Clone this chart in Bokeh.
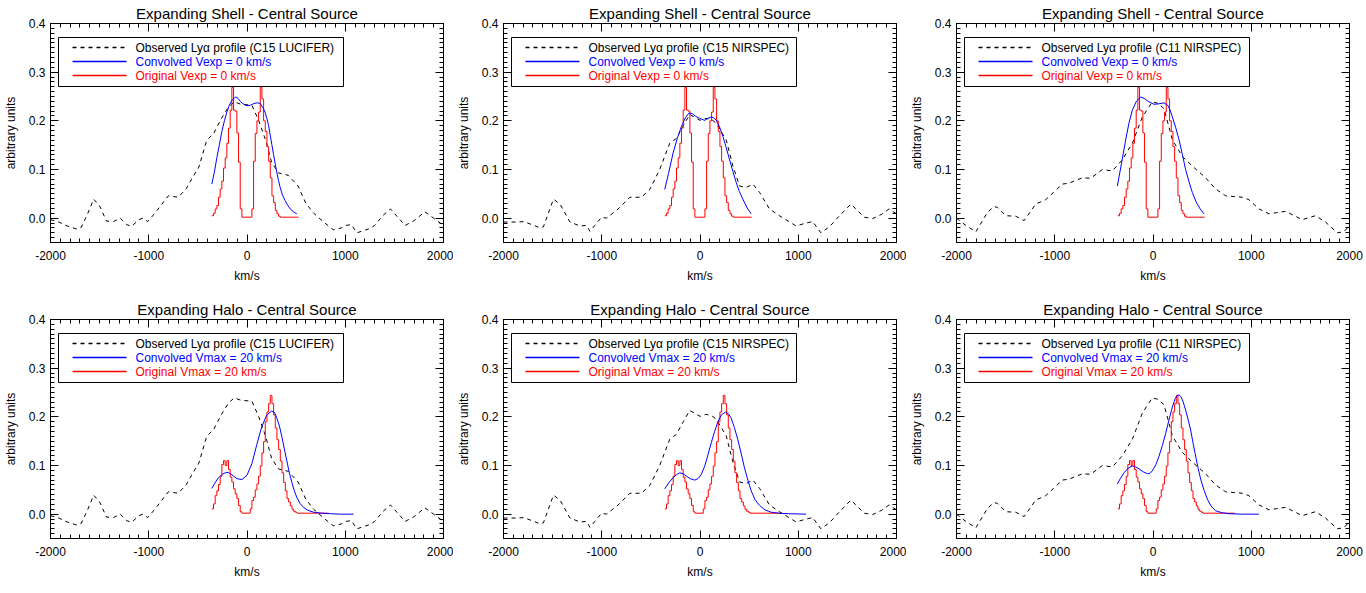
from bokeh.plotting import figure
from bokeh.layouts import gridplot
from bokeh.models import (Range1d, LinearAxis, SingleIntervalTicker, NumeralTickFormatter,
                          CustomJSTickFormatter, BoxAnnotation, Label)
from bokeh.embed import file_html
from bokeh.resources import INLINE

FONT = "Liberation Sans"

# ---------------- data ----------------
titles = ["Expanding Shell - Central Source", "Expanding Halo - Central Source"]
obs_labels = ["Observed Lyα profile (C15 LUCIFER)",
              "Observed Lyα profile (C15 NIRSPEC)",
              "Observed Lyα profile (C11 NIRSPEC)"]
conv_labels = ["Convolved Vexp = 0 km/s", "Convolved Vmax = 20 km/s"]
orig_labels = ["Original Vexp = 0 km/s", "Original Vmax = 20 km/s"]

x_ticks_interval = 1000
y_ticks_interval = 0.1
X_START, X_END = -2000, 2000
Y_START, Y_END = -0.05, 0.4

# observed profiles (km/s, arbitrary units)
obs_c15_lucifer_v = [-2000, -1915, -1830, -1740, -1690, -1620, -1560, -1500, -1430, -1360, -1290,
                     -1220, -1170, -1100, -1060, -1010, -960, -880, -800, -700, -620, -550, -490,
                     -410, -340, -260, -190, -130, -60, 0, 50, 120, 190, 250, 320, 420, 520, 600,
                     680, 780, 880, 960, 1010, 1060, 1120, 1240, 1300, 1380, 1460, 1530, 1610,
                     1700, 1810, 1900, 2000]
obs_c15_lucifer_f = [-0.003, -0.008, -0.016, -0.022, -0.020, 0.010, 0.039, 0.025, -0.006, -0.007,
                     0.000, -0.014, -0.016, -0.003, 0.000, -0.007, 0.005, 0.025, 0.046, 0.043,
                     0.060, 0.085, 0.105, 0.160, 0.174, 0.205, 0.228, 0.239, 0.234, 0.233, 0.232,
                     0.200, 0.160, 0.115, 0.093, 0.088, 0.066, 0.030, 0.010, -0.008, -0.024,
                     -0.020, -0.015, -0.013, -0.030, -0.022, -0.015, 0.005, 0.019, 0.003, -0.015,
                     -0.005, 0.013, 0.000, -0.015]

obs_c15_nirspec_v = [-2000, -1865, -1797, -1700, -1628, -1594, -1492, -1425, -1323, -1222, -1154,
                     -1120, -1002, -951, -833, -714, -596, -511, -410, -308, -240, -170, -105, -50,
                     0, 60, 115, 166, 267, 335, 403, 470, 538, 606, 707, 809, 978, 1080, 1147,
                     1230, 1316, 1420, 1536, 1672, 1756, 1850, 1925, 2000]
obs_c15_nirspec_f = [-0.008, -0.008, -0.007, -0.014, -0.020, -0.018, 0.039, 0.029, -0.008, -0.016,
                     -0.015, -0.027, 0.002, 0.000, 0.019, 0.043, 0.043, 0.059, 0.100, 0.154, 0.164,
                     0.190, 0.213, 0.207, 0.201, 0.205, 0.203, 0.195, 0.161, 0.107, 0.066, 0.063,
                     0.070, 0.053, 0.019, 0.005, -0.016, -0.010, -0.007, -0.030, -0.018, 0.005,
                     0.029, 0.002, -0.001, 0.008, 0.019, 0.009]

obs_c11_nirspec_v = [-2000, -1905, -1803, -1685, -1617, -1583, -1498, -1397, -1312, -1193, -1092,
                     -922, -854, -719, -634, -515, -414, -312, -210, -108, -7, 50, 112, 197, 298,
                     400, 536, 637, 739, 909, 976, 1078, 1180, 1248, 1349, 1519, 1654, 1756, 1875,
                     1943, 2000]
obs_c11_nirspec_f = [0.000, -0.015, -0.028, 0.012, 0.024, 0.022, 0.005, 0.004, -0.005, 0.029, 0.038,
                     0.070, 0.072, 0.083, 0.082, 0.100, 0.097, 0.120, 0.154, 0.208, 0.239, 0.236,
                     0.225, 0.161, 0.127, 0.107, 0.083, 0.060, 0.046, 0.043, 0.038, 0.019, 0.009,
                     0.011, 0.014, -0.003, 0.005, -0.008, -0.030, -0.028, -0.015]

# original (unconvolved) model spectra, histogram: left bin edges + last edge
shell_orig_v = [-358, -341, -324, -307, -290, -273, -256, -239, -222, -205, -188, -171, -154, -137,
                -120, -103, -86, -69, -52, 50, 67, 84, 101, 118, 135, 152, 169, 186, 203, 220,
                237, 254, 271, 288, 305, 322, 339, 525]
shell_orig_f = [0.005, 0.010, 0.019, 0.026, 0.043, 0.060, 0.076, 0.103, 0.124, 0.154, 0.185, 0.222,
                0.269, 0.222, 0.220, 0.175, 0.115, 0.019, 0.002, 0.019, 0.117, 0.174, 0.200, 0.218,
                0.269, 0.245, 0.200, 0.178, 0.147, 0.117, 0.083, 0.046, 0.032, 0.016, 0.009, 0.004,
                0.002, 0.002]

halo_orig_v = [-358, -341, -324, -307, -290, -273, -256, -239, -222, -205, -188, -171, -154, -137,
               -120, -103, -86, -69, -52, 33, 50, 67, 84, 101, 118, 135, 152, 169, 186, 203, 220,
               237, 254, 271, 288, 305, 322, 339, 356, 373, 390, 407, 424, 441, 458, 475, 492, 509,
               831]
halo_orig_f = [0.011, 0.021, 0.038, 0.048, 0.061, 0.078, 0.102, 0.110, 0.100, 0.110, 0.092, 0.076,
               0.066, 0.052, 0.042, 0.032, 0.018, 0.005, 0.002, 0.011, 0.028, 0.035, 0.050, 0.062,
               0.078, 0.099, 0.126, 0.149, 0.190, 0.210, 0.227, 0.244, 0.227, 0.204, 0.177, 0.153,
               0.133, 0.109, 0.085, 0.065, 0.048, 0.032, 0.025, 0.017, 0.010, 0.006, 0.004, 0.002,
               0.002]

# convolved model spectra
shell_conv_c15_lucifer_v = [-358, -330, -307, -280, -256, -230, -205, -180, -154, -130, -113, -90,
                            -69, -40, -18, 10, 33, 65, 100, 134, 168, 185, 202, 220, 236, 253, 270,
                            287, 304, 321, 338, 360, 389, 415, 440, 480, 507]
shell_conv_c15_lucifer_f = [0.070, 0.097, 0.124, 0.152, 0.178, 0.200, 0.218, 0.232, 0.242, 0.247,
                            0.249, 0.246, 0.240, 0.235, 0.232, 0.231, 0.232, 0.235, 0.237, 0.236,
                            0.225, 0.217, 0.205, 0.190, 0.171, 0.151, 0.131, 0.112, 0.093, 0.077,
                            0.063, 0.048, 0.036, 0.026, 0.019, 0.012, 0.009]

shell_conv_c15_nirspec_v = [-359, -320, -274, -230, -190, -150, -112, -80, -40, -3, 47, 80, 115, 140,
                            166, 200, 233, 267, 301, 335, 369, 400, 436, 480, 521]
shell_conv_c15_nirspec_f = [0.059, 0.092, 0.134, 0.165, 0.188, 0.206, 0.216, 0.215, 0.209, 0.205,
                            0.201, 0.205, 0.208, 0.206, 0.201, 0.187, 0.168, 0.145, 0.120, 0.096,
                            0.073, 0.055, 0.039, 0.021, 0.009]

shell_conv_c11_nirspec_v = [-363, -320, -278, -245, -210, -170, -125, -90, -41, 10, 60, 112, 150,
                            175, 197, 230, 265, 300, 332, 366, 400, 440, 480, 519]
shell_conv_c11_nirspec_f = [0.066, 0.113, 0.161, 0.195, 0.222, 0.240, 0.249, 0.246, 0.239, 0.234,
                            0.235, 0.237, 0.232, 0.222, 0.208, 0.187, 0.161, 0.130, 0.100, 0.075,
                            0.053, 0.033, 0.019, 0.009]

halo_conv_c15_lucifer_v = [-358, -320, -290, -250, -222, -190, -154, -103, -52, 0, 50, 100, 151, 202,
                           253, 280, 304, 330, 355, 380, 406, 430, 457, 480, 508, 540, 575, 620,
                           677, 760, 847, 950, 1085]
halo_conv_c15_lucifer_f = [0.053, 0.066, 0.075, 0.082, 0.085, 0.086, 0.081, 0.073, 0.071, 0.080,
                           0.104, 0.143, 0.180, 0.204, 0.212, 0.209, 0.197, 0.181, 0.159, 0.134,
                           0.109, 0.086, 0.065, 0.049, 0.034, 0.022, 0.014, 0.008, 0.004, 0.002,
                           0.001, 0.000, 0.000]

halo_conv_c15_nirspec_v = [-359, -320, -274, -240, -206, -170, -138, -100, -54, -20, 14, 50, 81, 115,
                           149, 183, 217, 261, 290, 318, 350, 385, 420, 453, 487, 521, 560, 606,
                           660, 724, 800, 900, 1080]
halo_conv_c15_nirspec_f = [0.052, 0.064, 0.075, 0.081, 0.085, 0.083, 0.078, 0.073, 0.070, 0.073,
                           0.082, 0.100, 0.122, 0.147, 0.170, 0.190, 0.204, 0.210, 0.206, 0.197,
                           0.178, 0.153, 0.124, 0.095, 0.070, 0.048, 0.030, 0.018, 0.009, 0.004,
                           0.002, 0.001, 0.000]

halo_conv_c11_nirspec_v = [-363, -330, -295, -250, -210, -175, -142, -100, -57, -30, -7, 30, 61, 95,
                           129, 163, 197, 225, 248, 265, 282, 305, 332, 358, 383, 408, 434, 460,
                           485, 520, 553, 590, 637, 700, 773, 900, 1078]
halo_conv_c11_nirspec_f = [0.062, 0.074, 0.085, 0.095, 0.099, 0.097, 0.093, 0.087, 0.083, 0.084,
                           0.089, 0.102, 0.119, 0.141, 0.166, 0.194, 0.220, 0.237, 0.244, 0.245,
                           0.242, 0.232, 0.214, 0.194, 0.173, 0.146, 0.119, 0.094, 0.072, 0.049,
                           0.031, 0.017, 0.007, 0.003, 0.001, 0.000, 0.000]

observed = [(obs_c15_lucifer_v, obs_c15_lucifer_f),
            (obs_c15_nirspec_v, obs_c15_nirspec_f),
            (obs_c11_nirspec_v, obs_c11_nirspec_f)]
originals = [(shell_orig_v, shell_orig_f), (halo_orig_v, halo_orig_f)]
convolved = [[(shell_conv_c15_lucifer_v, shell_conv_c15_lucifer_f),
              (shell_conv_c15_nirspec_v, shell_conv_c15_nirspec_f),
              (shell_conv_c11_nirspec_v, shell_conv_c11_nirspec_f)],
             [(halo_conv_c15_lucifer_v, halo_conv_c15_lucifer_f),
              (halo_conv_c15_nirspec_v, halo_conv_c15_nirspec_f),
              (halo_conv_c11_nirspec_v, halo_conv_c11_nirspec_f)]]

# ---------------- layout / style ----------------
FRAME_W, FRAME_H = 393, 219
BLACK = "black"
BLUE = "#0000ff"
RED = "#ff0000"
DASH = "4 4"


def px_to_x(px):
    """legend-key position: pixel offset from the frame's left edge -> x data value"""
    return X_START + px * (X_END - X_START) / FRAME_W


def px_to_y(px):
    """legend-key position: pixel offset from the frame's bottom edge -> y data value"""
    return Y_START + px * (Y_END - Y_START) / FRAME_H


def style_axis(ax, show_labels=True):
    ax.major_tick_in = 8
    ax.major_tick_out = 0
    ax.minor_tick_in = 4
    ax.minor_tick_out = 0
    ax.axis_line_color = BLACK
    ax.major_tick_line_color = BLACK
    ax.minor_tick_line_color = BLACK
    ax.major_label_text_font = FONT
    ax.major_label_text_font_size = "12px"
    ax.major_label_text_color = BLACK
    ax.axis_label_text_font = FONT
    ax.axis_label_text_font_size = "12px"
    ax.axis_label_text_font_style = "normal"
    ax.axis_label_text_color = BLACK
    if not show_labels:
        ax.formatter = CustomJSTickFormatter(code="return ''")
        ax.major_label_text_color = None
        ax.major_label_standoff = 0


def make_panel(row, col):
    top_border = 21
    bottom_border = 54 if row == 0 else 42
    right_border = 14 if col == 2 else 10
    p = figure(frame_width=FRAME_W, frame_height=FRAME_H,
               x_range=Range1d(X_START, X_END), y_range=Range1d(Y_START, Y_END),
               output_backend="svg", toolbar_location=None,
               min_border_left=44, min_border_right=right_border,
               min_border_top=top_border, min_border_bottom=bottom_border,
               title=titles[row], x_axis_label="km/s", y_axis_label="arbitrary units")
    p.title.text_font = FONT
    p.title.text_font_size = "15px"
    p.title.text_font_style = "normal"
    p.title.text_color = BLACK
    p.title.align = "center"
    p.title.standoff = 4
    p.xgrid.visible = False
    p.ygrid.visible = False
    p.outline_line_color = BLACK
    p.background_fill_color = "white"
    p.border_fill_color = "white"

    xt = SingleIntervalTicker(interval=x_ticks_interval, num_minor_ticks=10)
    yt = SingleIntervalTicker(interval=y_ticks_interval, num_minor_ticks=10)
    p.xaxis.ticker = xt
    p.yaxis.ticker = yt
    p.xaxis.formatter = NumeralTickFormatter(format="0")
    p.yaxis.formatter = NumeralTickFormatter(format="0.0")
    for ax in p.xaxis:
        style_axis(ax)
        ax.major_label_standoff = 8
        ax.axis_label_standoff = 6
    for ax in p.yaxis:
        style_axis(ax)
        ax.major_label_standoff = 5
        ax.axis_label_standoff = 8

    top_ax = LinearAxis(ticker=xt)
    style_axis(top_ax, show_labels=False)
    p.add_layout(top_ax, "above")
    right_ax = LinearAxis(ticker=yt)
    style_axis(right_ax, show_labels=False)
    p.add_layout(right_ax, "right")

    ov, of = observed[col]
    cv, cf = convolved[row][col]
    rv, rf = originals[row]
    p.line(ov, of, line_color=BLACK, line_width=1, line_dash=DASH)
    p.step(rv, rf, mode="after", line_color=RED, line_width=1)
    p.line(cv, cf, line_color=BLUE, line_width=1)

    # legend box (screen units, relative to the frame's bottom-left corner)
    box = BoxAnnotation(left=8, right=293, top=FRAME_H - 14, bottom=FRAME_H - 63,
                        left_units="screen", right_units="screen",
                        top_units="screen", bottom_units="screen",
                        fill_alpha=0.0, line_color=BLACK, line_width=1, line_alpha=1.0)
    p.add_layout(box)

    entries = [(obs_labels[col], BLACK, DASH, 24),
               (conv_labels[row], BLUE, "solid", 38),
               (orig_labels[row], RED, "solid", 52)]
    for text, color, dash, center in entries:
        yc = FRAME_H - center
        # legend key line
        p.line([px_to_x(22), px_to_x(76)], [px_to_y(yc), px_to_y(yc)],
               line_color=color, line_width=1.5, line_dash=dash)
        p.add_layout(Label(x=85, y=yc, x_units="screen", y_units="screen", text=text,
                           text_color=color, text_font=FONT, text_font_size="12px",
                           text_baseline="middle", text_align="left"))
    return p


grid = [[make_panel(r, c) for c in range(3)] for r in range(2)]
layout = gridplot(grid, toolbar_location=None)

open("out.html", "w").write(file_html(layout, INLINE))
